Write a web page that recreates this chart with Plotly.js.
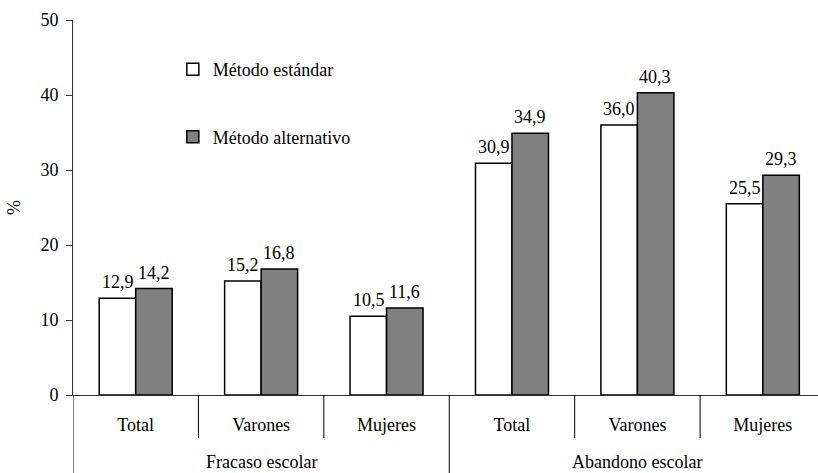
<!DOCTYPE html>
<html>
<head>
<meta charset="utf-8">
<script src="https://cdn.plot.ly/plotly-3.0.1.min.js"></script>
<style>html,body{margin:0;padding:0;background:#fff;}#chart{width:818px;height:473px;}</style>
</head>
<body>
<div id="chart"></div>
<script>
// Data
const groups = ["Fracaso escolar", "Abandono escolar"];
const subcategories = ["Total", "Varones", "Mujeres"];
const categoryIds = ["F-Total", "F-Varones", "F-Mujeres", "A-Total", "A-Varones", "A-Mujeres"];
const tickLabels = ["Total", "Varones", "Mujeres", "Total", "Varones", "Mujeres"];
const seriesNames = ["Método estándar", "Método alternativo"];
const estandar = [12.9, 15.2, 10.5, 30.9, 36.0, 25.5];
const alternativo = [14.2, 16.8, 11.6, 34.9, 40.3, 29.3];

const FONT = "Liberation Serif";
const FS = 18;
const fmt = v => v.toFixed(1).replace(".", ",");

const traces = [
  {type: "bar", name: seriesNames[0], x: categoryIds, y: estandar, legendgroup: "a",
   marker: {color: "#ffffff", line: {color: "#000000", width: 1.5}}, hoverinfo: "skip"},
  {type: "bar", name: seriesNames[1], x: categoryIds, y: alternativo, legendgroup: "b",
   marker: {color: "#808080", line: {color: "#000000", width: 1.5}}, hoverinfo: "skip"}
];

const annotations = [];
categoryIds.forEach((c, i) => {
  annotations.push({x: c, y: estandar[i], xref: "x", yref: "y", text: fmt(estandar[i]),
    showarrow: false, yanchor: "bottom", xshift: -18, yshift: 4, font: {family: FONT, size: FS, color: "#000"}});
  annotations.push({x: c, y: alternativo[i], xref: "x", yref: "y", text: fmt(alternativo[i]),
    showarrow: false, yanchor: "bottom", xshift: 18, yshift: 4, font: {family: FONT, size: FS, color: "#000"}});
});
groups.forEach((g, gi) => {
  annotations.push({x: categoryIds[gi * 3 + 1], y: -0.178, xref: "x", yref: "paper", text: g,
    showarrow: false, yanchor: "middle", font: {family: FONT, size: FS, color: "#000"}});
});

const shapes = [];
// short separators between subcategories
[0.5, 1.5, 3.5, 4.5].forEach(p => shapes.push({type: "line", xref: "x", yref: "paper",
  x0: p, x1: p, y0: 0, y1: -0.1147, line: {color: "#000", width: 1}}));
// long separators between groups
[-0.5, 2.5].forEach(p => shapes.push({type: "line", xref: "x", yref: "paper",
  x0: p, x1: p, y0: 0, y1: -0.21, line: {color: "#000", width: 1}}));

const layout = {
  width: 818, height: 473,
  margin: {l: 73, r: 0, t: 20, b: 78},
  paper_bgcolor: "#fff", plot_bgcolor: "#fff",
  font: {family: FONT, size: FS, color: "#000"},
  barmode: "group", bargap: 0.418, bargroupgap: 0,
  showlegend: true,
  legend: {x: 0.134, y: 0.917, xanchor: "left", yanchor: "top", bgcolor: "rgba(0,0,0,0)",
    traceorder: "grouped", tracegroupgap: 41, font: {family: FONT, size: FS, color: "#000"}},
  xaxis: {type: "category", range: [-0.5, 5.44], tickvals: categoryIds, ticktext: tickLabels,
    ticks: "", showline: true, linecolor: "#333", linewidth: 1, showgrid: false, zeroline: false,
    ticklabelstandoff: 13, tickfont: {family: FONT, size: FS, color: "#000"}, fixedrange: true},
  yaxis: {range: [0, 50], dtick: 10, ticks: "outside", ticklen: 6, tickcolor: "#333",
    showline: true, linecolor: "#333", linewidth: 1, showgrid: false, zeroline: false,
    ticklabelstandoff: 4, tickfont: {family: FONT, size: FS, color: "#000"},
    title: {text: "%", standoff: 15, font: {family: FONT, size: FS, color: "#000"}}},
  annotations: annotations,
  shapes: shapes
};

Plotly.newPlot("chart", traces, layout, {staticPlot: true, displayModeBar: false});
</script>
</body>
</html>
